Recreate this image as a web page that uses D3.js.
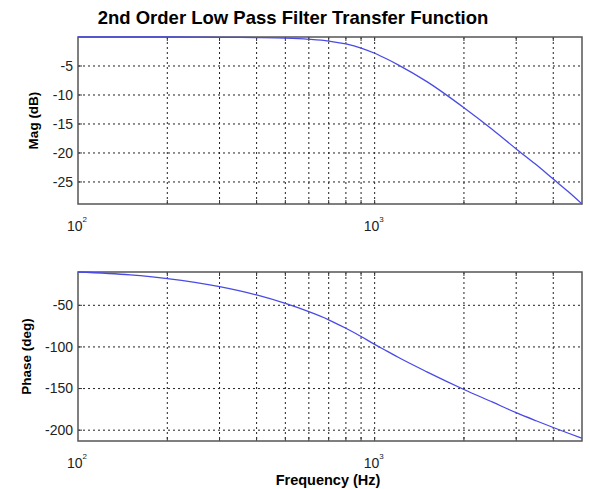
<!DOCTYPE html>
<html>
<head>
<meta charset="utf-8">
<script src="https://cdnjs.cloudflare.com/ajax/libs/d3/7.8.5/d3.min.js"></script>
<style>
  body { margin: 0; background: #fff; }
  text { font-family: "Liberation Sans", Arial, sans-serif; }
</style>
</head>
<body>
<div id="canvas"></div>
<script>
// DATA
const freq = [100, 150, 200, 300, 400, 500, 600, 700, 800, 900, 1000, 1100, 1200, 1500, 2000, 2500, 3000, 3500, 4000, 4500, 5000];
const magDb = [0, 0, 0, -0.05, -0.1, -0.2, -0.4, -0.7, -1.2, -1.9, -2.8, -3.8, -4.8, -7.7, -12.2, -16.0, -19.3, -22.0, -24.5, -26.7, -28.8];
const phaseDeg = [-10, -13.5, -17.9, -27.6, -37.6, -47.8, -57.7, -67.4, -77.6, -87.5, -97, -105, -112.4, -129.9, -151.1, -166.4, -179, -188.7, -196.8, -203.7, -209.7];

const gridFreqs = [200, 300, 400, 500, 600, 700, 800, 900, 1000, 2000, 3000, 4000];
const decadeTicks = [{ v: 100, exp: "2" }, { v: 1000, exp: "3" }];
const magTicks = [-5, -10, -15, -20, -25];
const phaseTicks = [-50, -100, -150, -200];

// DIMENSIONS
const width = 590;
const height = 489;
const left = 78, right = 582;

const canvas = d3.select('#canvas')
  .append('svg')
  .attr('width', width)
  .attr('height', height);

// TITLE
canvas.append('text')
  .attr('x', 293)
  .attr('y', 24)
  .attr('text-anchor', 'middle')
  .style('font-size', '18.5px')
  .style('font-weight', 'bold')
  .text('2nd Order Low Pass Filter Transfer Function');

let scaleX = d3.scaleLog().domain([100, 5000]).range([left, right]);

function drawPanel(top, bottom, yDomain, yTicks, values, yLabel, labelX) {
  let scaleY = d3.scaleLinear().domain(yDomain).range([bottom, top]);
  const g = canvas.append('g');

  // dotted grid
  g.selectAll('.vgrid').data(gridFreqs).enter()
    .append('line')
    .attr('x1', d => scaleX(d)).attr('x2', d => scaleX(d))
    .attr('y1', top).attr('y2', bottom)
    .attr('stroke', '#222')
    .attr('stroke-width', 1)
    .attr('stroke-dasharray', '2,3');

  g.selectAll('.hgrid').data(yTicks).enter()
    .append('line')
    .attr('x1', left).attr('x2', right)
    .attr('y1', d => scaleY(d)).attr('y2', d => scaleY(d))
    .attr('stroke', '#222')
    .attr('stroke-width', 1)
    .attr('stroke-dasharray', '2,3');

  // inward tick marks
  g.selectAll('.btick').data(gridFreqs).enter()
    .append('line')
    .attr('x1', d => scaleX(d)).attr('x2', d => scaleX(d))
    .attr('y1', bottom).attr('y2', bottom - 4)
    .attr('stroke', '#333');

  g.selectAll('.ttick').data(gridFreqs).enter()
    .append('line')
    .attr('x1', d => scaleX(d)).attr('x2', d => scaleX(d))
    .attr('y1', top).attr('y2', top + 4)
    .attr('stroke', '#333');

  g.selectAll('.ltick').data(yTicks).enter()
    .append('line')
    .attr('x1', left).attr('x2', left + 4)
    .attr('y1', d => scaleY(d)).attr('y2', d => scaleY(d))
    .attr('stroke', '#333');

  // box
  g.append('rect')
    .attr('x', left).attr('y', top)
    .attr('width', right - left).attr('height', bottom - top)
    .attr('fill', 'none')
    .attr('stroke', '#555')
    .attr('stroke-width', 1.5);

  // curve
  let line = d3.line()
    .x((d, i) => scaleX(freq[i]))
    .y(d => scaleY(d))
    .curve(d3.curveMonotoneX);

  g.append('path')
    .datum(values)
    .attr('d', line)
    .attr('fill', 'none')
    .attr('stroke', '#4a4ae6')
    .attr('stroke-width', 1.3);

  // y tick labels
  g.selectAll('.ylab').data(yTicks).enter()
    .append('text')
    .attr('x', left - 5)
    .attr('y', d => scaleY(d))
    .attr('dy', '0.35em')
    .attr('text-anchor', 'end')
    .style('font-size', '14px')
    .style('fill', '#222')
    .text(d => d);

  // x tick labels (10^n)
  let xl = g.selectAll('.xlab').data(decadeTicks).enter()
    .append('text')
    .attr('x', d => scaleX(d.v) - 1)
    .attr('y', bottom + 27)
    .attr('text-anchor', 'middle')
    .style('font-size', '14px')
    .style('fill', '#222');
  xl.append('tspan').text('10');
  xl.append('tspan')
    .attr('dy', -9)
    .style('font-size', '8px')
    .text(d => d.exp);

  // y axis label
  g.append('text')
    .attr('transform', `translate(${labelX}, ${(top + bottom) / 2}) rotate(-90)`)
    .attr('text-anchor', 'middle')
    .style('font-size', '13.5px')
    .style('font-weight', 'bold')
    .text(yLabel);
}

drawPanel(37, 204, [-28.8, 0], magTicks, magDb, 'Mag (dB)', 38);
drawPanel(272, 441, [-213, -10], phaseTicks, phaseDeg, 'Phase (deg)', 31);

// x axis label
canvas.append('text')
  .attr('x', 328)
  .attr('y', 485)
  .attr('text-anchor', 'middle')
  .style('font-size', '14.5px')
  .style('font-weight', 'bold')
  .text('Frequency (Hz)');
</script>
</body>
</html>
